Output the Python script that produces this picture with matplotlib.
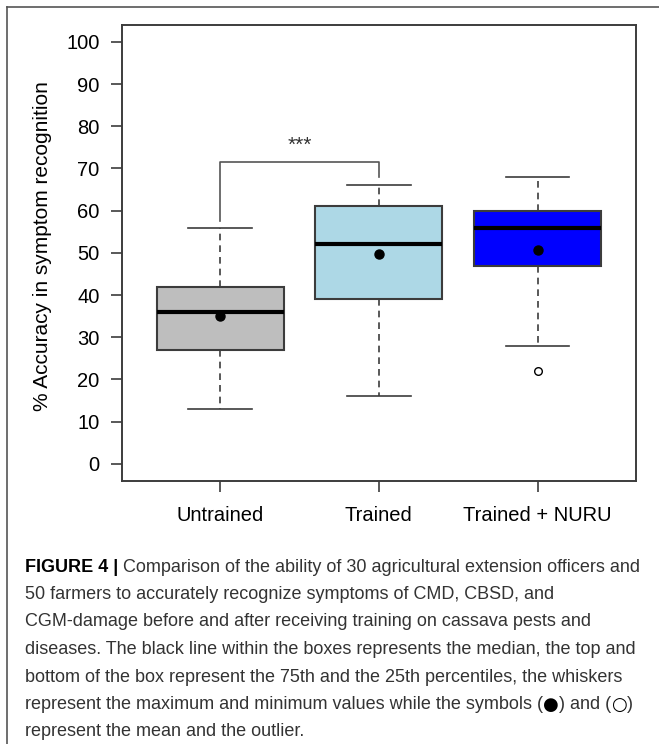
import numpy as np
import matplotlib
matplotlib.use("Agg")
import matplotlib.pyplot as plt
from matplotlib.lines import Line2D

plt.rcParams['font.family'] = ['Liberation Sans', 'DejaVu Sans']

groups = ["Untrained", "Trained", "Trained + NURU"]
colors = ["#BEBEBE", "#ADD8E6", "#0000FF"]
q1 = [27, 39, 47]
medians = [36, 52, 56]
q3 = [42, 61, 60]
whislo = [13, 16, 28]
whishi = [56, 66, 68]
means = [35, 49.8, 50.6]
outliers = [[], [], [22]]
yticks = [0, 10, 20, 30, 40, 50, 60, 70, 80, 90, 100]

caption_bold = "FIGURE 4 | "
caption = [
    "Comparison of the ability of 30 agricultural extension officers and",
    "50 farmers to accurately recognize symptoms of CMD, CBSD, and",
    "CGM-damage before and after receiving training on cassava pests and",
    "diseases. The black line within the boxes represents the median, the top and",
    "bottom of the box represent the 75th and the 25th percentiles, the whiskers",
    "represent the maximum and minimum values while the symbols (\u25cf) and (\u25cb)",
    "represent the mean and the outlier.",
]

W, H = 659, 744
fig = plt.figure(figsize=(W / 100, H / 100), dpi=100)
ax = fig.add_axes([121.7 / W, 1 - 480.7 / H, (636 - 121.7) / W, (480.7 - 25) / H])

edge = "#3c3c3c"
stats = []
for i in range(3):
    stats.append(dict(med=medians[i], q1=q1[i], q3=q3[i], whislo=whislo[i],
                      whishi=whishi[i], mean=means[i], fliers=outliers[i], label=groups[i]))

bp = ax.bxp(stats, positions=[1, 2, 3], widths=0.8, patch_artist=True,
            showmeans=True, capwidths=0.4,
            boxprops=dict(edgecolor=edge, linewidth=1.5),
            medianprops=dict(color="black", linewidth=3, solid_capstyle="butt"),
            whiskerprops=dict(color=edge, linewidth=1.2, linestyle=(0, (4, 3))),
            capprops=dict(color=edge, linewidth=1.2),
            meanprops=dict(marker="o", markerfacecolor="black", markeredgecolor="black", markersize=6.5),
            flierprops=dict(marker="o", markerfacecolor="white", markeredgecolor="black",
                            markersize=5.5, markeredgewidth=1.0))
for patch, c in zip(bp["boxes"], colors):
    patch.set_facecolor(c)

# significance bracket
ax.plot([1, 1, 2, 2], [57.6, 71.5, 71.5, 67.9], color="#555555", linewidth=1.2)
ax.text(1.5, 75.5, "***", ha="center", va="center", fontsize=15, color="#333333")

ax.set_xlim(0.38, 3.62)
ax.set_ylim(-4, 104)
ax.set_yticks(yticks)
ax.set_xticks([1, 2, 3])
ax.set_xticklabels(groups, fontsize=14.5)
ax.tick_params(axis="y", labelsize=14.5, length=8, width=1.2, color=edge, pad=8)
ax.tick_params(axis="x", length=8, width=1.2, color=edge, pad=10)
for s in ax.spines.values():
    s.set_color(edge)
    s.set_linewidth(1.4)
ax.set_ylabel("% Accuracy in symptom recognition", fontsize=15)
ax.yaxis.set_label_coords((52 - 121.7) / (636 - 121.7), 0.515)

# outer frame (left and top edges)
fig.add_artist(Line2D([7 / W, 7 / W], [0, 1 - 7 / H], color="#555555", linewidth=1.2))
fig.add_artist(Line2D([7 / W, 1], [1 - 7 / H, 1 - 7 / H], color="#555555", linewidth=1.2))

# caption, drawn piece by piece so the bold lead and the circle symbols get their own font
cap_size = 13
x0 = 25
y0 = 567
dy = 27.5
r = fig.canvas.get_renderer()


def put(x, y, s, **kw):
    t = fig.text(x / W, 1 - y / H, s, fontsize=cap_size, va="center", ha="left", **kw)
    return x + t.get_window_extent(renderer=r).width


def put_line(x, y, s):
    parts = s.replace("\u25cf", "|\u25cf|").replace("\u25cb", "|\u25cb|").split("|")
    for p in parts:
        if p in ("\u25cf", "\u25cb"):
            x = put(x, y, p, color="black", family="DejaVu Sans")
        elif p:
            x = put(x, y, p, color="#333333")


xb = put(x0, y0, caption_bold, color="black", fontweight="bold")
put_line(xb, y0, caption[0])
for k, line in enumerate(caption[1:], start=1):
    put_line(x0, y0 + k * dy, line)

fig.savefig("out.png", dpi=100)
